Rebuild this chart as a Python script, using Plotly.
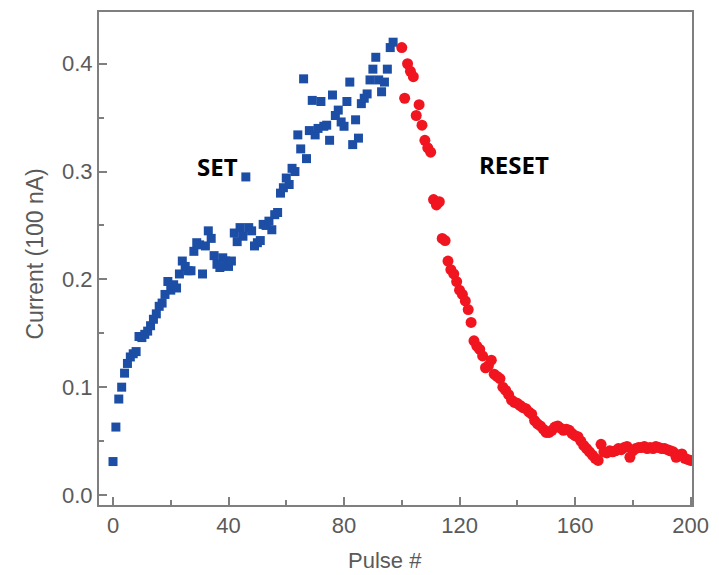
import plotly.graph_objects as go

# SET phase (blue squares)
set_pulse = list(range(0, 98))
set_current = [
    0.031, 0.063, 0.089, 0.100, 0.113, 0.122, 0.128, 0.131, 0.133, 0.147,
    0.146, 0.149, 0.152, 0.157, 0.163, 0.168, 0.175, 0.178, 0.186, 0.198,
    0.190, 0.195, 0.192, 0.205, 0.217, 0.212, 0.208, 0.208, 0.226, 0.234,
    0.232, 0.205, 0.231, 0.245, 0.238, 0.222, 0.214, 0.211, 0.220, 0.217,
    0.212, 0.217, 0.243, 0.235, 0.248, 0.240, 0.295, 0.248, 0.245, 0.231,
    0.234, 0.236, 0.251, 0.250, 0.254, 0.246, 0.260, 0.262, 0.280, 0.285,
    0.294, 0.288, 0.303, 0.300, 0.334, 0.321, 0.386, 0.312, 0.338, 0.366,
    0.334, 0.340, 0.365, 0.342, 0.343, 0.329, 0.371, 0.352, 0.357, 0.346,
    0.342, 0.365, 0.383, 0.325, 0.348, 0.331, 0.363, 0.368, 0.372, 0.385,
    0.395, 0.406, 0.385, 0.374, 0.383, 0.395, 0.415, 0.420,
]

# RESET phase (red circles)
reset_pulse = list(range(100, 201))
reset_current = [
    0.415, 0.368, 0.400, 0.393, 0.388, 0.352, 0.362, 0.343, 0.329, 0.322,
    0.318, 0.274, 0.269, 0.272, 0.238, 0.236, 0.217, 0.209, 0.205, 0.198,
    0.190, 0.186, 0.180, 0.172, 0.160, 0.143, 0.138, 0.135, 0.129, 0.118,
    0.120, 0.125, 0.112, 0.110, 0.108, 0.100, 0.097, 0.093, 0.088, 0.086,
    0.085, 0.083, 0.081, 0.080, 0.077, 0.075, 0.069, 0.066, 0.064, 0.061,
    0.058, 0.058, 0.060, 0.063, 0.064, 0.062, 0.060, 0.061, 0.060, 0.057,
    0.055, 0.054, 0.050, 0.046, 0.043, 0.040, 0.037, 0.034, 0.032, 0.047,
    0.040, 0.039, 0.041, 0.040, 0.041, 0.043, 0.042, 0.044, 0.045, 0.035,
    0.041, 0.043, 0.044, 0.044, 0.045, 0.043, 0.044, 0.043, 0.045, 0.044,
    0.043, 0.043, 0.042, 0.041, 0.040, 0.035, 0.037, 0.038, 0.034, 0.033,
    0.032,
]

x_ticks = [0, 40, 80, 120, 160, 200]
y_ticks = [0.0, 0.1, 0.2, 0.3, 0.4]

GRAY = "#5a5a5a"
FRAME = "#7f7f7f"

fig = go.Figure()
fig.add_trace(go.Scatter(
    x=set_pulse, y=set_current, mode="markers", name="SET",
    marker=dict(symbol="square", size=9, color="#1c4ea6", line=dict(width=0)),
))
fig.add_trace(go.Scatter(
    x=reset_pulse, y=reset_current, mode="markers", name="RESET",
    marker=dict(symbol="circle", size=11, color="#f11520", line=dict(width=0)),
))

axis_common = dict(
    showline=True, mirror=True, linecolor=FRAME, linewidth=2,
    ticks="inside", ticklen=8, tickwidth=1.5, tickcolor=FRAME,
    showgrid=False, zeroline=False,
    tickfont=dict(family="Liberation Sans, Arial", size=22, color=GRAY),
)

fig.update_xaxes(
    range=[-4.85, 200.5], tickvals=x_ticks,
    minor=dict(dtick=20, tick0=0, ticks="inside", ticklen=5, tickcolor=FRAME),
    **axis_common,
)
fig.update_yaxes(
    range=[-0.0093, 0.448], tickvals=y_ticks, tickformat=".1f",
    minor=dict(dtick=0.05, tick0=0, ticks="inside", ticklen=5, tickcolor=FRAME),
    **axis_common,
)

fig.add_annotation(
    text="Current (100 nA)", xref="paper", yref="paper",
    x=-0.108, y=0.51, textangle=-90, showarrow=False,
    xanchor="center", yanchor="middle",
    font=dict(family="Liberation Sans, Arial", size=23, color=GRAY),
)
fig.add_annotation(
    text="Pulse #", xref="paper", yref="paper",
    x=0.483, y=-0.112, showarrow=False,
    xanchor="center", yanchor="middle",
    font=dict(family="Liberation Sans, Arial", size=22, color=GRAY),
)
fig.add_annotation(
    text="<b>SET</b>", x=36.3, y=0.3046, showarrow=False,
    font=dict(family="Open Sans, Noto Sans", size=24, color="black"),
)
fig.add_annotation(
    text="<b>RESET</b>", x=138.8, y=0.3065, showarrow=False,
    font=dict(family="Open Sans, Noto Sans", size=24, color="black"),
)

fig.update_layout(
    width=719, height=575,
    margin=dict(l=99, r=27, t=10, b=70),
    paper_bgcolor="white", plot_bgcolor="white",
    showlegend=False,
)

fig.write_html("out.html")
